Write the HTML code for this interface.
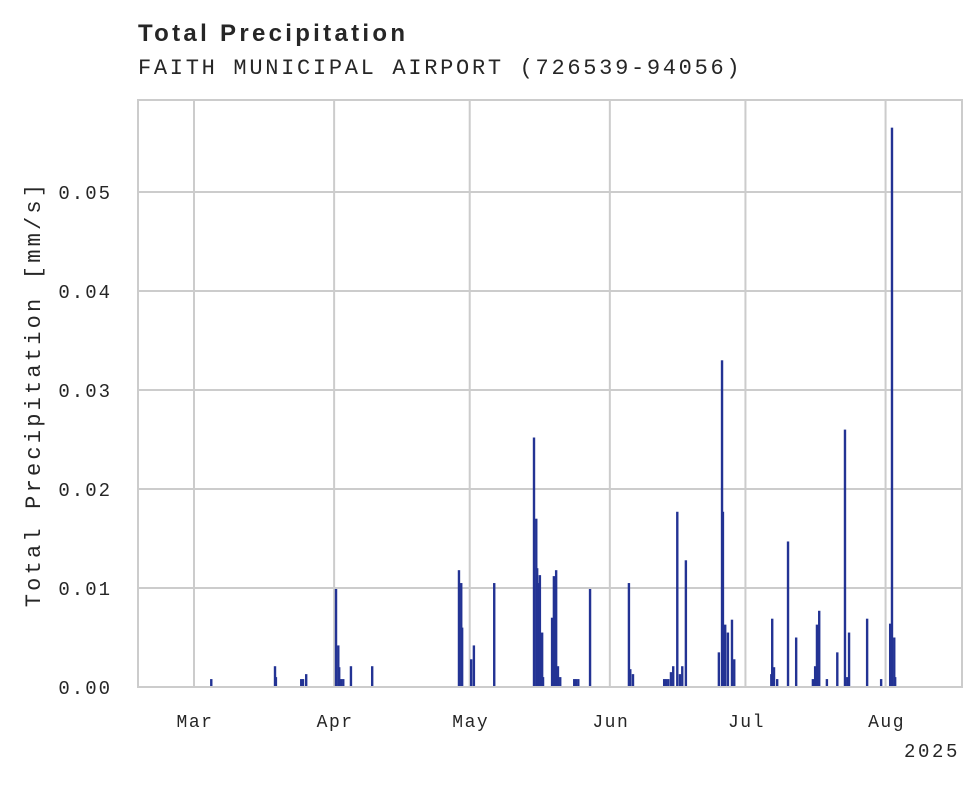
<!DOCTYPE html>
<html><head><meta charset="utf-8"><style>
body{margin:0;background:#fff;width:980px;height:783px;overflow:hidden}
text{fill:#262626}
.mono{font-family:"Liberation Mono","DejaVu Sans Mono",monospace}
</style></head><body>
<svg width="980" height="783">
<text x="138" y="41" style="font-family:'Liberation Sans',sans-serif;font-weight:bold;font-size:24px;letter-spacing:3.3px">Total Precipitation</text>
<text x="138" y="74" class="mono" style="font-size:22px;letter-spacing:2.7px">FAITH MUNICIPAL AIRPORT (726539-94056)</text>
<g id="grid"></g>
<g id="bars"></g>
<rect x="138" y="100" width="824" height="587" fill="none" stroke="#ccc" stroke-width="2"/>
<g id="xt"></g>
<g id="yt"></g>
<text x="960" y="757" text-anchor="end" class="mono" style="font-size:19px;letter-spacing:2.6px">2025</text>
<text transform="translate(40,394) rotate(-90)" text-anchor="middle" class="mono" style="font-size:22px;letter-spacing:3.2px">Total Precipitation [mm/s]</text>
</svg>
<script>
const days=[3.8,17.9,18.1,23.7,24.1,24.8,31.4,31.9,32.1,32.5,33.0,34.7,39.4,58.6,59.1,59.3,61.3,61.9,66.4,75.2,75.7,75.9,76.1,76.5,77.0,77.2,79.2,79.6,80.1,80.5,81.0,84.1,84.5,85.0,87.6,96.2,96.5,97.1,104.0,104.4,104.9,105.5,106.0,106.9,107.5,108.0,108.8,116.1,116.8,117.0,117.5,118.1,119.0,119.5,127.7,127.9,128.3,129.0,131.4,133.2,136.9,137.4,137.8,138.3,140.0,142.3,144.0,144.5,144.9,148.9,152.0,154.0,154.4,154.9,155.1];
const values=[0.0008,0.0021,0.001,0.0008,0.0008,0.0013,0.0099,0.0042,0.002,0.0008,0.0008,0.0021,0.0021,0.0118,0.0105,0.006,0.0028,0.0042,0.0105,0.0252,0.017,0.012,0.0105,0.0113,0.0055,0.001,0.007,0.0112,0.0118,0.0021,0.001,0.0008,0.0008,0.0008,0.0099,0.0105,0.0018,0.0013,0.0008,0.0008,0.0008,0.0015,0.0021,0.0177,0.0013,0.0021,0.0128,0.0035,0.033,0.0177,0.0063,0.0055,0.0068,0.0028,0.0013,0.0069,0.002,0.0008,0.0147,0.005,0.0008,0.0021,0.0063,0.0077,0.0008,0.0035,0.026,0.001,0.0055,0.0069,0.0008,0.0064,0.0565,0.005,0.001];
const monthLabels=["Mar","Apr","May","Jun","Jul","Aug"];
const monthDays=[0,31,61,92,122,153];
const yTicks=[0,0.01,0.02,0.03,0.04,0.05];
const yTickLabels=["0.00","0.01","0.02","0.03","0.04","0.05"];
const X=d=>194+d*4.52, Y=v=>687-v*9900;
const NS="http://www.w3.org/2000/svg";
const mk=(t,a,p)=>{const e=document.createElementNS(NS,t);for(const k in a)e.setAttribute(k,a[k]);p.appendChild(e);return e;};
const grid=document.getElementById('grid'),bars=document.getElementById('bars'),xt=document.getElementById('xt'),yt=document.getElementById('yt');
monthDays.forEach((d,i)=>{
 const l=mk('line',{x1:X(d),x2:X(d),y1:100,y2:687,stroke:'#ccc','stroke-width':2},grid);
 
 
 const t=mk('text',{x:X(d)+1,y:727,'text-anchor':'middle',class:'mono','font-size':18,'letter-spacing':'1.5px'},xt);
 t.textContent=monthLabels[i];
 
 
});
yTicks.forEach((v,i)=>{
 if(v>0){const l=mk('line',{x1:138,x2:962,y1:Y(v),y2:Y(v),stroke:'#ccc','stroke-width':2},grid);
 
 }
 const t=mk('text',{x:112,y:Y(v)+7,'text-anchor':'end',class:'mono','font-size':19,'letter-spacing':'2px'},yt);
 t.textContent=yTickLabels[i];
 
 
});
days.forEach((d,i)=>{
 const r=mk('rect',{x:X(d)-1.1,y:Y(values[i]),width:2.4,height:687-Y(values[i]),fill:'#233394'},bars);
 
 
});
</script>
</body></html>
